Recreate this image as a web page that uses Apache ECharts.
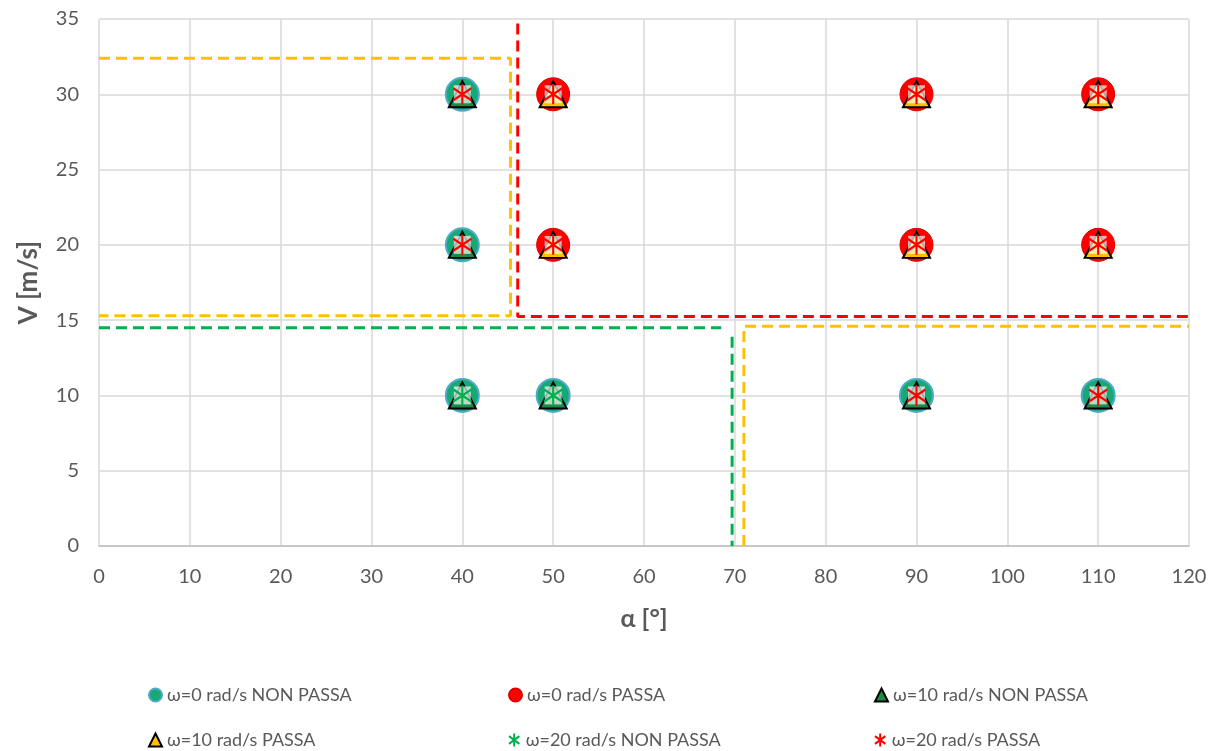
<!DOCTYPE html>
<html><head><meta charset="utf-8">
<script src="https://cdn.jsdelivr.net/npm/echarts@6/dist/echarts.min.js"></script>
<style>html,body{margin:0;padding:0;background:#fff}#c{width:1221px;height:751px}</style>
</head><body><div id="c"></div>
<script>
// ---- data ----
const names = ['ω=0 rad/s NON PASSA','ω=0 rad/s PASSA','ω=10 rad/s NON PASSA','ω=10 rad/s PASSA','ω=20 rad/s NON PASSA','ω=20 rad/s PASSA'];
const w0NonPassa  = [[40,30],[40,20],[40,10],[50,10],[90,10],[110,10]];
const w0Passa     = [[50,30],[90,30],[110,30],[50,20],[90,20],[110,20]];
const w10NonPassa = [[40,30],[40,20],[40,10],[50,10],[90,10],[110,10]];
const w10Passa    = [[50,30],[90,30],[110,30],[50,20],[90,20],[110,20]];
const w20NonPassa = [[40,10],[50,10]];
const w20Passa    = [[40,30],[40,20],[50,30],[90,30],[110,30],[50,20],[90,20],[110,20],[90,10],[110,10]];
// boundary (dashed) lines
const yellowUpper = [[0,32.4],[45.3,32.4],[45.3,15.3],[0,15.3]];
const yellowLower = [[71,0],[71,14.6],[120,14.6]];
const redBound    = [[46.1,34.7],[46.1,15.25],[120,15.25]];
const greenHoriz  = [[0,14.5],[68.5,14.5]];
const greenVert   = [[69.7,13.9],[69.7,0]];
const xTicks = [0,10,20,30,40,50,60,70,80,90,100,110,120];
const yTicks = [0,5,10,15,20,25,30,35];

const starPath = 'path://M10,0 L10,20 M2,4 L18,16 M18,4 L2,16';
const font = 'Lato, "Open Sans", sans-serif';
const gray = '#595959';

function dashed(data, color){
  return {type:'line', data, symbol:'none', silent:true, z:1,
    lineStyle:{color, width:3, type:[11,6]}};
}
const series = [
  dashed(yellowUpper,'#FFC000'), dashed(yellowLower,'#FFC000'),
  dashed(redBound,'#FF0000'), dashed(greenHoriz,'#00B050'), dashed(greenVert,'#00B050'),
  {name:names[0], type:'scatter', data:w0NonPassa, symbol:'circle', symbolSize:33, z:3,
   itemStyle:{color:'#17A874', borderColor:'#4FA9C9', borderWidth:2, opacity:1}},
  {name:names[1], type:'scatter', data:w0Passa, symbol:'circle', symbolSize:33, z:3,
   itemStyle:{color:'#FF0000', borderColor:'#E00000', borderWidth:1, opacity:1}},
  {name:names[2], type:'scatter', data:w10NonPassa, symbol:'triangle', symbolSize:[27,26], z:4,
   itemStyle:{color:'#1E8A45', borderColor:'#000', borderWidth:2, opacity:1}},
  {name:names[3], type:'scatter', data:w10Passa, symbol:'triangle', symbolSize:[27,26], z:4,
   itemStyle:{color:'#FFC000', borderColor:'#000', borderWidth:2, opacity:1}},
  // white background behind stars (no legend)
  {type:'scatter', data:w20NonPassa, symbol:'rect', symbolSize:[17,18], z:5, silent:true,
   itemStyle:{color:'rgba(255,255,255,0.85)'}},
  {type:'scatter', data:w20Passa, symbol:'rect', symbolSize:[17,18], z:5, silent:true,
   itemStyle:{color:'rgba(255,255,255,0.85)'}},
  {name:names[4], type:'scatter', data:w20NonPassa, symbol:starPath, symbolSize:[18,20], z:6,
   itemStyle:{color:'#00B050', borderColor:'#00B050', borderWidth:2.2, opacity:1}},
  {name:names[5], type:'scatter', data:w20Passa, symbol:starPath, symbolSize:[18,20], z:6,
   itemStyle:{color:'#FF0000', borderColor:'#FF0000', borderWidth:2.2, opacity:1}}
];

const legendPos = [[143,681],[503,681],[869,681],[143,726],[503,726],[869,726]];
const legends = names.map((n,i)=>({
  data:[n], left:legendPos[i][0], top:legendPos[i][1], itemWidth:13, itemHeight:13, itemGap:5,
  selectedMode:false, textStyle:{fontFamily:font, fontSize:18, color:gray}
}));

const chart = echarts.init(document.getElementById('c'), null, {renderer:'canvas'});
chart.setOption({
  animation:false,
  backgroundColor:'#fff',
  grid:{left:99, right:32, top:19, bottom:205, containLabel:false},
  legend:legends,
  xAxis:{type:'value', min:xTicks[0], max:xTicks[xTicks.length-1], interval:10,
    name:'α [°]', nameLocation:'middle', nameGap:60,
    nameTextStyle:{fontFamily:font, fontSize:25, fontWeight:'bold', color:gray},
    axisLine:{show:true, lineStyle:{color:'#BFBFBF', width:1.5}},
    axisTick:{show:false},
    axisLabel:{fontFamily:font, fontSize:20, color:gray, margin:21},
    splitLine:{show:true, lineStyle:{color:'#D9D9D9', width:1.5}}},
  yAxis:{type:'value', min:yTicks[0], max:yTicks[yTicks.length-1], interval:5,
    name:'V [m/s]', nameLocation:'middle', nameGap:57, nameRotate:90,
    nameTextStyle:{fontFamily:font, fontSize:26, fontWeight:'bold', color:gray},
    axisLine:{show:false}, axisTick:{show:false},
    axisLabel:{fontFamily:font, fontSize:20, color:gray, margin:20},
    splitLine:{show:true, lineStyle:{color:'#D9D9D9', width:1.5}}},
  series
});
</script></body></html>
